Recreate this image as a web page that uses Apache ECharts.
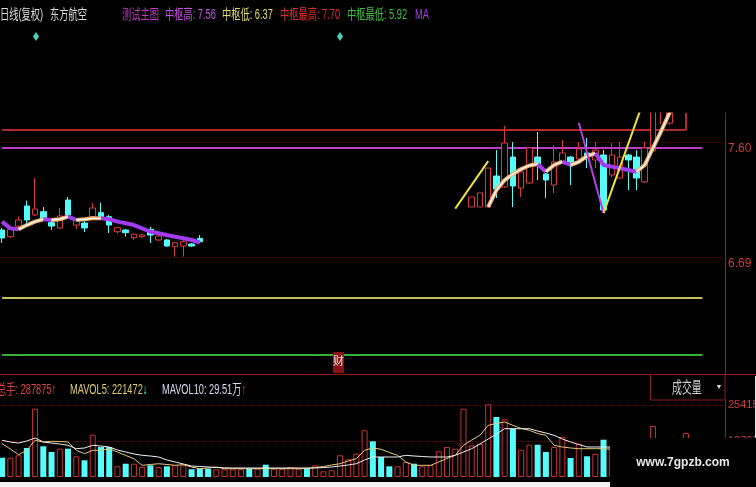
<!DOCTYPE html>
<html><head><meta charset="utf-8">
<style>html,body{margin:0;padding:0;background:#000;}#c{width:756px;height:487px;}</style>
<script src="https://cdn.jsdelivr.net/npm/echarts@6/dist/echarts.min.js"></script>
</head><body><div id="c"></div>
<script>
// ---------- data ----------
const N = 88;
const days = Array.from({length: N}, (_, i) => 'D' + (i + 1));

// candles: [open, close, low, high]
const candleOHLC = [
  [6.909,6.846,6.806,6.925],[6.856,6.914,6.846,6.914],[6.940,6.988,6.933,7.014],[7.099,6.988,6.964,7.141],
  [7.028,7.075,7.020,7.320],[7.054,7.001,6.996,7.091],[6.967,6.940,6.909,6.988],[6.925,7.020,6.917,7.083],
  [7.146,7.028,7.020,7.170],[6.948,6.988,6.917,6.996],[6.964,6.925,6.893,7.004],[7.014,7.083,7.006,7.125],
  [7.046,7.014,7.006,7.125],[7.014,6.948,6.885,7.028],[6.895,6.927,6.883,6.935],[6.909,6.888,6.856,6.917],
  [6.848,6.875,6.830,6.877],[6.856,6.869,6.850,6.877],[6.914,6.869,6.806,6.935],[6.830,6.861,6.822,6.869],
  [6.830,6.782,6.775,6.838],[6.777,6.808,6.698,6.814],[6.782,6.816,6.698,6.856],[6.798,6.782,6.775,6.806],
  [6.843,6.816,6.806,6.869],
  null,null,null,null,null,null,null,null,null,null,null,null,null,null,null,null,
  null,null,null,null,null,null,null,null,null,null,null,null,null,null,null,null,
  [7.091,7.170,7.091,7.170],[7.091,7.202,7.091,7.202],[7.091,7.399,7.091,7.399],[7.336,7.233,7.162,7.542],
  [7.249,7.597,7.241,7.732],[7.486,7.257,7.091,7.605],[7.241,7.368,7.170,7.376],[7.281,7.558,7.273,7.566],
  [7.486,7.423,7.304,7.684],[7.352,7.304,7.162,7.360],[7.265,7.447,7.202,7.581],[7.447,7.518,7.439,7.621],
  [7.486,7.447,7.265,7.494],[7.471,7.550,7.463,7.605],[7.518,7.494,7.399,7.637],[7.463,7.542,7.399,7.605],
  [7.502,7.067,7.043,7.542],[7.344,7.502,7.328,7.597],[7.320,7.486,7.312,7.605],[7.502,7.463,7.225,7.510],
  [7.486,7.320,7.225,7.542],[7.289,7.558,7.281,7.605],[7.534,7.900,7.520,7.950],[7.860,8.000,7.747,8.050],
  [7.755,8.020,7.740,8.080],[7.900,8.100,7.880,8.150],[7.950,8.150,7.900,8.200],
  null,null,null,null
];

// colour-changing moving average of the main chart
const maMain = [
  6.975,6.922,6.914,6.948,6.975,6.994,6.988,6.994,7.014,6.988,6.994,7.001,7.001,6.994,6.975,6.962,
  6.948,6.922,6.895,6.883,6.869,6.856,6.843,6.830,6.810,
  null,null,null,null,null,null,null,null,null,null,null,null,null,null,null,null,null,
  null,null,null,null,null,null,null,null,null,null,null,null,null,null,null,null,null,
  7.091,7.225,7.304,7.352,7.391,7.419,7.431,7.370,7.423,7.449,7.423,7.447,7.494,7.516,7.423,7.410,
  7.397,7.384,7.370,7.423,7.558,7.692,7.834,7.970,
  null,null,null,null,null
];

// zig-zag strokes [dayIndex, price]
const zigYellowA = [[55, 7.078], [59, 7.454]];
const zigPurple  = [[70, 7.758], [73, 7.043]];
const zigYellowB = [[73, 7.043], [78, 7.956]];

// pivot levels
const levelHigh = 7.56;    // 中枢高
const levelLow = 6.37;     // 中枢低
const levelTop = 7.70;     // 中枢最高
const levelBottom = 5.92;  // 中枢最低

const priceTicks = [6.69, 7.60];
const volTicks = [127075, 254150];

// volume
const volumes = [
  68100,68100,76600,102400,241100,108400,88300,99900,99900,73100,
  59000,149300,105900,105900,37800,46900,46900,35300,41300,35300,
  37800,41300,41300,27200,29300,29300,27200,27200,27200,27200,
  29300,29300,43400,29300,29300,35300,29300,29300,41300,20100,
  23700,76600,62500,82200,164900,126000,70600,37800,37800,53000,
  46900,37800,41300,90700,105900,99900,241100,111900,117500,256600,
  211800,203700,170500,96400,114000,114000,88300,105900,141200,67100,
  117500,73100,82200,131700,105900,98800,77700,91800,123600,180000,
  116500,127100,105900,155300
];
const volDir = ('duudu' + 'ddudu' + 'duddu' + 'duudu' + 'duudd' + 'duuuu' + 'dudu' + 'uuudu' +
  'uuuuuu' + 'dddu' + 'udu' + 'uuuuuuuu' + 'duduudduudud' + 'udu' + 'uddu' + 'uuuuu').split('');
const mavol5 = [
  117500,98800,78700,94300,129600,123600,126000,125300,123600,94300,
  82200,94300,94300,99900,88300,75900,64600,41300,44100,46900,
  44100,41300,43400,35300,29300,31800,35300,29300,29300,29300,
  29300,29300,29300,29300,29300,29300,29300,30000,33500,37100,
  42400,46900,56500,64600,94300,102400,97800,86500,76600,53000,
  41300,41300,41300,53000,65300,76600,111900,130600,147200,182500,
  188900,194200,182500,171200,164900,153600,147200,111900,105900,102400,
  99900,99900,99900,99900,98000,96000,94000,95000,100000,118000,
  120000,125000,118000,122000
];
const mavol10 = [
  129600,123600,120000,127100,137700,123600,120000,116500,111900,99900,
  102400,111900,109400,105900,95300,88300,81200,76600,74100,70600,
  60000,53000,45900,38800,37100,35300,33500,32500,31800,31800,
  31800,31800,31800,31800,31800,31800,31800,31800,31800,33500,
  35300,38800,42400,46900,60000,70600,70600,70600,70600,76600,
  74100,72400,70600,70600,70600,76600,88300,99900,116500,134100,
  151800,170500,170500,170500,170500,162400,155300,147200,134100,123600,
  114700,105900,105900,105900,105900,106500,107200,108000,110000,114000,
  116000,118500,121000,122000
];

const totalHands = '287875';
const mavol5Now = '221472';
const mavol10Now = '29.51万';

// ---------- chart ----------
const FONT = '"Liberation Sans","Noto Sans CJK SC",sans-serif';
const chart = echarts.init(document.getElementById('c'), null, {renderer: 'canvas'});

// split MA into rising / falling runs
const runs = [];
for (let i = 0; i < maMain.length - 1; i++) {
  const a = maMain[i], b = maMain[i + 1];
  if (a == null || b == null) continue;
  const up = b >= a;
  const last = runs[runs.length - 1];
  if (last && last.up === up && last.end === i) last.end = i + 1;
  else runs.push({up, start: i, end: i + 1});
}
const maSeries = [];
runs.forEach(r => {
  const pts = [];
  for (let i = r.start; i <= r.end; i++) pts.push([i, maMain[i]]);
  if (r.up) {
    maSeries.push({type: 'line', data: pts, symbol: 'none', z: 5, silent: true,
      lineStyle: {color: '#f0b070', width: 4}});
    maSeries.push({type: 'line', data: pts, symbol: 'none', z: 6, silent: true,
      lineStyle: {color: '#ffffff', width: 1.3}});
  } else {
    maSeries.push({type: 'line', data: pts, symbol: 'none', z: 5, silent: true,
      lineStyle: {color: '#a23cf0', width: 4}});
  }
});

function hline(v, endIdx, color) {
  return [{coord: [0, v], lineStyle: {color: color, width: 2, type: 'solid'}}, {coord: [endIdx, v]}];
}

const priceMax = 7.8345, priceMin = 5.7696;

const option = {
  backgroundColor: '#000',
  animation: false,
  grid: [
    {left: -2, right: 33, top: 113, height: 261, outerBoundsMode: 'none', containLabel: false},
    {left: -2, right: 33, top: 400, height: 77, outerBoundsMode: 'none', containLabel: false}
  ],
  xAxis: [0, 1].map(g => ({
    type: 'category', gridIndex: g, data: days, boundaryGap: true,
    axisLine: {show: false}, axisTick: {show: false}, axisLabel: {show: false}, splitLine: {show: false}
  })),
  yAxis: [
    {type: 'value', gridIndex: 0, position: 'right', offset: 2, min: priceMin, max: priceMax,
      axisLine: {show: true, lineStyle: {color: '#8c1e1e'}},
      axisTick: {show: false, customValues: priceTicks},
      axisLabel: {customValues: priceTicks, formatter: v => Number(v).toFixed(2), color: '#d23c3c',
        fontSize: 12, fontFamily: FONT, margin: 3, verticalAlign: 'top', lineHeight: 12},
      splitLine: {show: true, lineStyle: {color: '#3e1010', type: 'dotted'}}},
    {type: 'value', gridIndex: 1, position: 'right', offset: 2, min: 0, max: 271800,
      axisLine: {show: true, lineStyle: {color: '#8c1e1e'}},
      axisTick: {show: false, customValues: volTicks},
      axisLabel: {customValues: volTicks, formatter: v => String(Math.round(v)), color: '#d23c3c',
        fontSize: 11, fontFamily: FONT, margin: 3},
      splitLine: {show: true, lineStyle: {color: '#4a1414', type: 'dotted'}}}
  ],
  series: [
    {type: 'candlestick', xAxisIndex: 0, yAxisIndex: 0, clip: true, barWidth: 6, silent: true,
      data: candleOHLC.map(d => d ? d : '-'),
      itemStyle: {color: '#000', color0: '#54fcfc', borderColor: '#d83c3c', borderColor0: '#54fcfc', borderWidth: 1},
      markLine: {silent: true, symbol: 'none', label: {show: false}, z: 1,
        data: [
          hline(levelTop, 83, '#b42a2a'),
          [{coord: [83, levelTop], lineStyle: {color: '#b42a2a', width: 2, type: 'solid'}}, {coord: [83, priceMax]}],
          hline(levelHigh, 85, '#c23cc8'),
          hline(levelLow, 85, '#c8c050'),
          hline(levelBottom, 85, '#38b038')
        ]}},
    ...maSeries,
    {type: 'line', data: zigYellowA, symbol: 'none', z: 7, silent: true, lineStyle: {color: '#f0e040', width: 2}},
    {type: 'line', data: zigPurple, symbol: 'none', z: 7, silent: true, lineStyle: {color: '#b440e0', width: 2}},
    {type: 'line', data: zigYellowB, symbol: 'none', z: 7, silent: true, lineStyle: {color: '#f0e040', width: 2}},
    {type: 'bar', xAxisIndex: 1, yAxisIndex: 1, barWidth: 6, silent: true,
      data: volumes.map((v, i) => ({value: v, itemStyle: volDir[i] === 'u'
        ? {color: '#000', borderColor: '#c83232', borderWidth: 1}
        : {color: '#54fcfc', borderColor: '#54fcfc', borderWidth: 0}}))},
    {type: 'line', xAxisIndex: 1, yAxisIndex: 1, data: mavol5, symbol: 'none', z: 5, silent: true,
      lineStyle: {color: '#e6c878', width: 1}},
    {type: 'line', xAxisIndex: 1, yAxisIndex: 1, data: mavol10, symbol: 'none', z: 5, silent: true,
      lineStyle: {color: '#f0f0f0', width: 1}}
  ],
  graphic: []
};

function txt(x, y, text, color, size, sx, rich) {
  const st = {text: text, fill: color, fontSize: size, fontFamily: FONT, verticalAlign: 'middle', align: 'left'};
  if (rich) st.rich = rich;
  return {type: 'text', x: x, y: y, scaleX: sx, silent: true, z: 100, style: st};
}
const S = 0.66, FS = 14;
const g = option.graphic;
// black band above the price area (the screenshot hides everything above it)
g.push({type: 'rect', silent: true, z: 80, shape: {x: 0, y: 43, width: 756, height: 69.5}, style: {fill: '#000'}});
// top info line
g.push(txt(0, 15, '日线(复权)', '#dcdcdc', FS, S));
g.push(txt(50, 15, '东方航空', '#dcdcdc', FS, S));
g.push(txt(122, 15, '测试主图', '#c03cc0', FS, S));
g.push(txt(165, 15, '中枢高: ' + levelHigh.toFixed(2), '#c850e8', FS, S));
g.push(txt(222, 15, '中枢低: ' + levelLow.toFixed(2), '#e0dc70', FS, S));
g.push(txt(280, 15, '中枢最高: ' + levelTop.toFixed(2), '#e03030', FS, S));
g.push(txt(347, 15, '中枢最低: ' + levelBottom.toFixed(2), '#40c040', FS, S));
g.push(txt(415, 15, 'MA', '#a040e0', FS, S));
// diamonds
[36, 340].forEach(cx => g.push({type: 'polygon', silent: true, z: 100,
  shape: {points: [[cx, 32], [cx + 3, 36.5], [cx, 41], [cx - 3, 36.5]]}, style: {fill: '#50d0b8'}}));
// separator between panels
g.push({type: 'line', silent: true, z: 50, shape: {x1: 0, y1: 374.5, x2: 756, y2: 374.5}, style: {stroke: '#8c1e1e', lineWidth: 1}});
// 财 marker
g.push({type: 'rect', silent: true, z: 60, shape: {x: 333, y: 352, width: 11, height: 21}, style: {fill: '#8a1212'}});
g.push({type: 'text', silent: true, z: 61, x: 338.5, y: 362, style: {text: '财', fill: '#f0e0e0', fontSize: 11, fontFamily: FONT, align: 'center', verticalAlign: 'middle'}});
// volume legend
g.push(txt(-3, 390, '总手: ' + totalHands + '↑', '#e04040', FS, S));
g.push(txt(70, 390, '{a|MAVOL5: ' + mavol5Now + '}{b|↓}', '#e0cc70', FS, S,
  {a: {fill: '#e0cc70', fontSize: FS, fontFamily: FONT}, b: {fill: '#54fcfc', fontSize: FS, fontFamily: FONT}}));
g.push(txt(162, 390, '{a|MAVOL10: ' + mavol10Now + '}{b|↑}', '#d8d8f0', FS, S,
  {a: {fill: '#d8d8f0', fontSize: FS, fontFamily: FONT}, b: {fill: '#e04040', fontSize: FS, fontFamily: FONT}}));
// 成交量 box
g.push({type: 'rect', silent: true, z: 60, shape: {x: 650.5, y: 374.5, width: 74.5, height: 25.5}, style: {fill: '#000', stroke: '#8c1e1e', lineWidth: 1}});
g.push(txt(672, 389, '成交量', '#d0d0d0', 16, 0.62));
g.push({type: 'text', silent: true, z: 100, x: 719, y: 387, style: {text: '▼', fill: '#e0e0e0', fontSize: 7, fontFamily: FONT, align: 'center', verticalAlign: 'middle'}});
// white borders of the screenshot
g.push({type: 'rect', silent: true, z: 90, shape: {x: 0, y: 482, width: 610, height: 5}, style: {fill: '#f2f2f2'}});
g.push({type: 'rect', silent: true, z: 90, shape: {x: 755, y: 376, width: 1, height: 62}, style: {fill: '#e6e6e6'}});
// watermark box
g.push({type: 'rect', silent: true, z: 95, shape: {x: 610, y: 438, width: 146, height: 49}, style: {fill: '#000'}});
g.push({type: 'text', silent: true, z: 96, x: 683, y: 463, style: {text: 'www.7gpzb.com', fill: '#e8e8e8', fontSize: 12, fontWeight: 'bold', fontFamily: FONT, align: 'center', verticalAlign: 'middle'}});

chart.setOption(option);
</script>
</body></html>
